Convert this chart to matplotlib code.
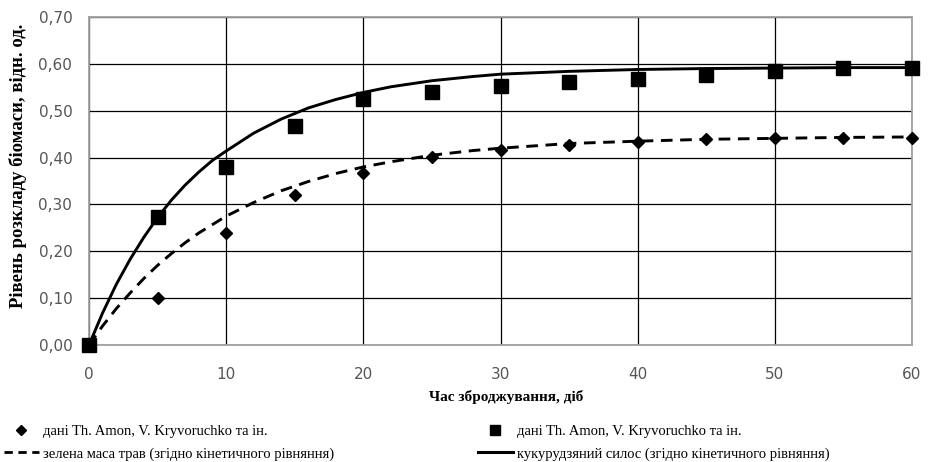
import matplotlib
matplotlib.use("Agg")
import matplotlib.pyplot as plt
from matplotlib.lines import Line2D

# Experimental data (Th. Amon, V. Kryvoruchko et al.)
days_exp = [0, 5, 10, 15, 20, 25, 30, 35, 40, 45, 50, 55, 60]
grass_exp = [0.00, 0.10, 0.24, 0.32, 0.368, 0.402, 0.416, 0.426, 0.433, 0.440, 0.441, 0.441, 0.441]
silage_exp = [0.00, 0.273, 0.379, 0.467, 0.525, 0.540, 0.552, 0.561, 0.567, 0.576, 0.584, 0.592, 0.592]

# Curves
days_curve = [0, 1, 2, 3, 4, 5, 6, 7, 8, 9, 10, 12, 14, 16, 18, 20, 22, 25, 28, 30, 35, 40, 45, 50, 55, 60]
grass_curve = [0.000, 0.041, 0.078, 0.111, 0.142, 0.170, 0.195, 0.218, 0.239, 0.257, 0.275,
               0.304, 0.329, 0.349, 0.366, 0.380, 0.391, 0.405, 0.415, 0.420, 0.430, 0.435,
               0.439, 0.441, 0.443, 0.444]
silage_curve = [0.000, 0.069, 0.130, 0.183, 0.230, 0.272, 0.309, 0.341, 0.369, 0.394, 0.414,
                0.452, 0.482, 0.506, 0.524, 0.539, 0.551, 0.564, 0.573, 0.578, 0.584, 0.588,
                0.590, 0.591, 0.592, 0.592]

x_ticks = [0, 10, 20, 30, 40, 50, 60]
y_ticks = [0.0, 0.1, 0.2, 0.3, 0.4, 0.5, 0.6, 0.7]

label_exp = "дані Th. Amon, V. Kryvoruchko та ін."
label_grass = "зелена маса трав (згідно кінетичного рівняння)"
label_silage = "кукурудзяний силос (згідно кінетичного рівняння)"
x_label = "Час зброджування, діб"
y_label = "Рівень розкладу біомаси, відн. од."

W, H = 933, 462
fig = plt.figure(figsize=(W/100, H/100), dpi=100)
ax = fig.add_axes([89/W, 1-345/H, (912-89)/W, (345-17)/H])

ax.plot(days_curve, grass_curve, color="black", lw=2.1, ls=(0, (4, 2.6)), zorder=3)
ax.plot(days_curve, silage_curve, color="black", lw=2.1, ls="-", zorder=3)
ax.plot(days_exp, grass_exp, ls="none", marker="D", ms=6, color="black", zorder=4, clip_on=False)
ax.plot(days_exp, silage_exp, ls="none", marker="s", ms=9.5, color="black", zorder=4, clip_on=False)

ax.set_xlim(0, 60)
ax.set_ylim(0, 0.70)
ax.set_xticks(x_ticks)
ax.set_yticks(y_ticks)
ax.set_yticklabels([f"{v:.2f}".replace(".", ",") for v in y_ticks])
ax.grid(True, color="black", lw=0.9)
ax.set_axisbelow(True)
for s in ax.spines.values():
    s.set_color("#a0a0a0")
    s.set_linewidth(1.3)
ax.tick_params(length=0, labelsize=11, labelcolor="#555555")
ax.tick_params(axis="y", pad=12)
ax.tick_params(axis="x", pad=16)
for t in ax.get_xticklabels() + ax.get_yticklabels():
    t.set_fontfamily("DejaVu Sans")

fig.text(506/W, 1-397/H, x_label, fontfamily="Liberation Serif", fontweight="bold",
         fontsize=11, ha="center", va="center")
fig.text(18/W, 1-166/H, y_label, fontfamily="Liberation Serif", fontweight="bold",
         fontsize=13.5, ha="center", va="center", rotation=90)

h_dia = Line2D([], [], ls="none", marker="D", ms=5.5, color="black")
h_dash = Line2D([], [], color="black", lw=2.0, ls=(0, (3, 2)))
h_sq = Line2D([], [], ls="none", marker="s", ms=7, color="black")
h_sol = Line2D([], [], color="black", lw=2.2)

leg_kw = dict(frameon=False, prop={"family": "Liberation Serif", "size": 10.5},
              handlelength=2.4, handletextpad=0.3, labelspacing=0.62, borderaxespad=0, borderpad=0)
leg1 = fig.legend([h_dia, h_dash], [label_exp, label_grass], loc="upper left",
                  bbox_to_anchor=(0.004, 1-425/H), **leg_kw)
leg2 = fig.legend([h_sq, h_sol], [label_exp, label_silage], loc="upper left",
                  bbox_to_anchor=(478/W, 1-425/H), **leg_kw)

fig.savefig("out.png", dpi=100)
